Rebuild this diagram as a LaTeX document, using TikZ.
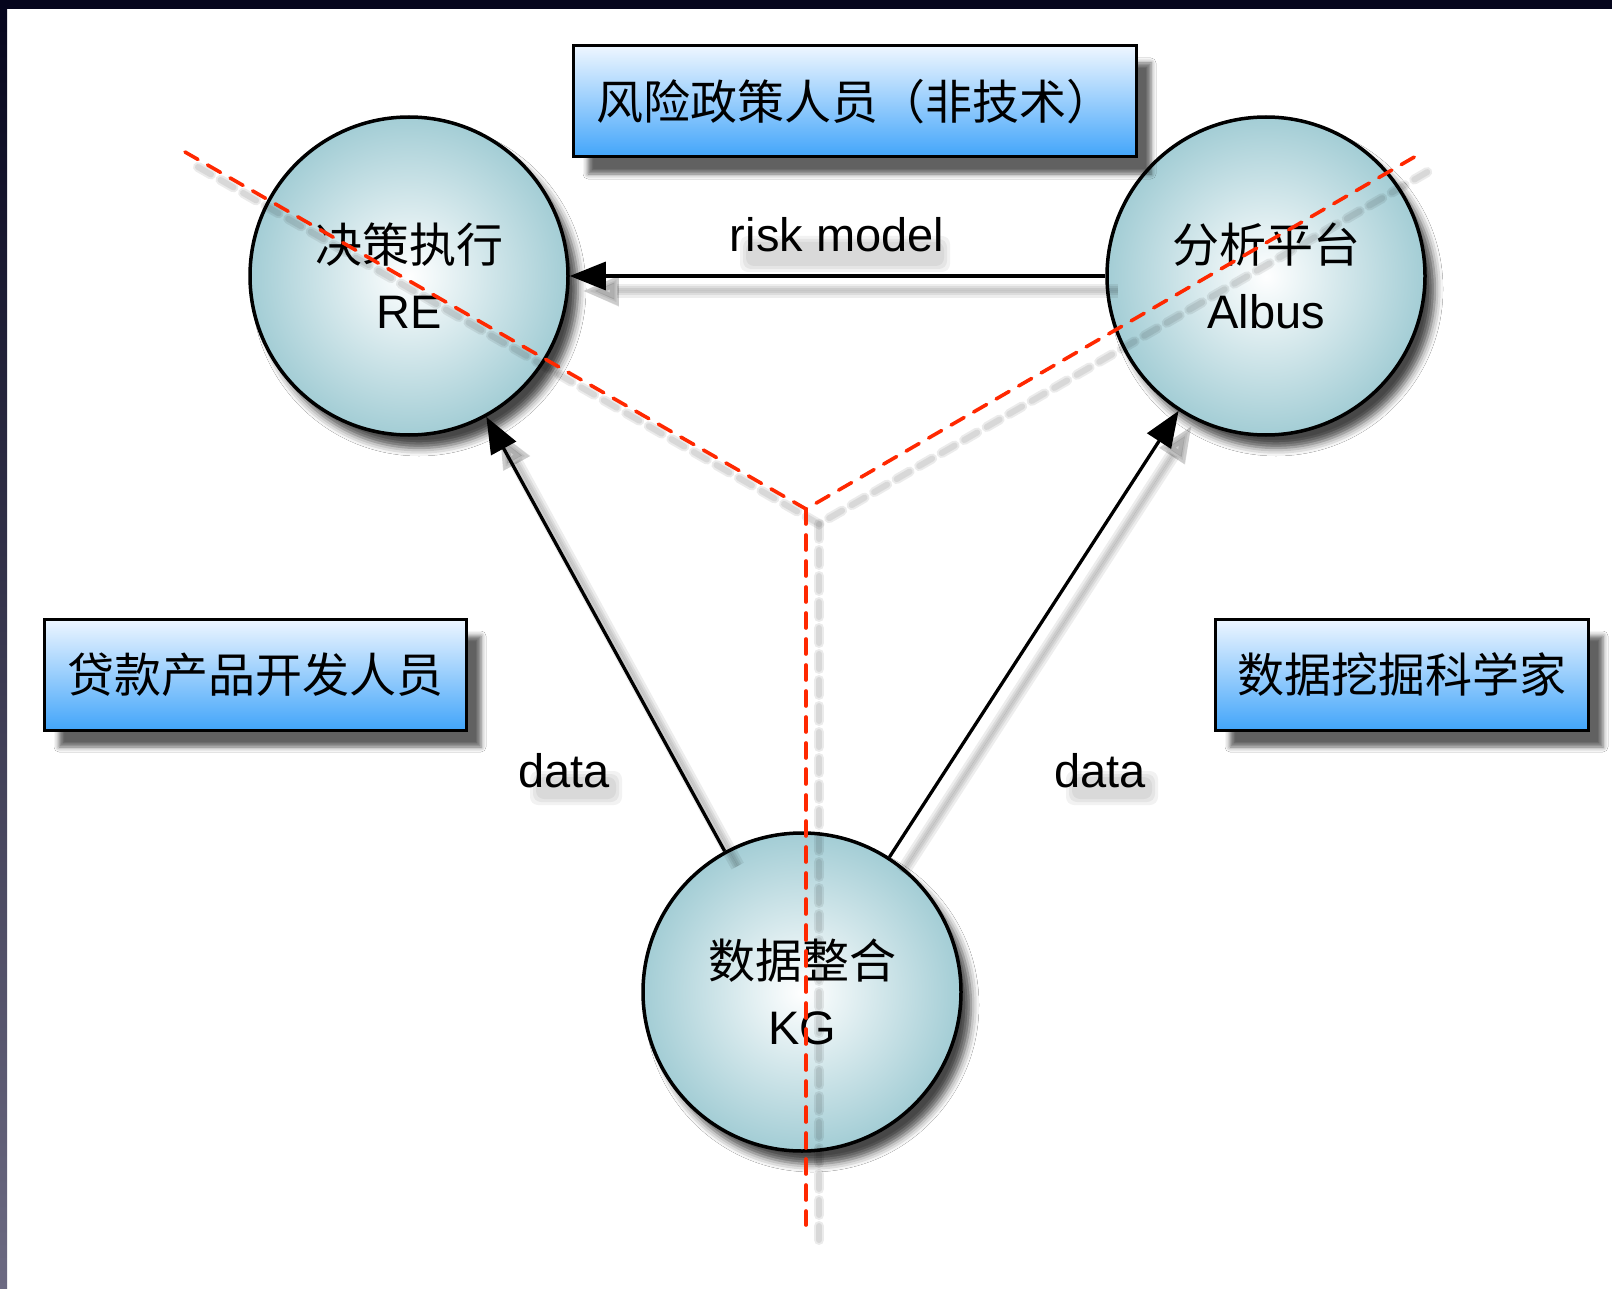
\documentclass[tikz,border=0pt]{standalone}
\usepackage{fontspec}
\setmainfont{Liberation Sans}
\newfontfamily\cjk{Noto Sans CJK SC}
\usetikzlibrary{arrows.meta,shadows.blur}
\definecolor{bandtop}{RGB}{5,5,28}
\definecolor{bandbot}{RGB}{108,106,130}
\definecolor{ballc}{RGB}{163,205,213}
\definecolor{boxtop}{RGB}{238,246,255}
\definecolor{boxbot}{RGB}{66,165,250}
\definecolor{redl}{RGB}{255,40,0}
\tikzset{
  ballnode/.style={circle, draw=black, line width=3.5pt, minimum size=318pt, inner sep=0pt,
    align=center, inner color=white, outer color=ballc,
    blur shadow={shadow xshift=10pt, shadow yshift=-13pt, shadow blur radius=8pt, shadow opacity=72},
    font=\fontsize{47}{66}\selectfont},
  rolebox/.style={rectangle, draw=black, line width=3pt, minimum height=111pt, inner sep=0pt,
    top color=boxtop, bottom color=boxbot,
    blur shadow={shadow xshift=15pt, shadow yshift=-17pt, shadow blur radius=5pt, shadow opacity=62},
    font=\cjk\fontsize{47}{56}\selectfont},
  arr/.style={draw=black, line width=3.3pt, -{Triangle[length=36pt,width=28pt]}},
  shpass/.style={draw=black, fill=black, opacity=0.07, line width=#1},
  lbl/.style={font=\fontsize{47}{56}\selectfont, inner sep=0pt, anchor=base},
  lblsh/.style={fill=black, opacity=0.05, rounded corners=8pt},
  splitline/.style={draw=redl, line width=3.6pt, dash pattern=on 15pt off 11pt, line cap=round},
  splitsh/.style={draw=black, opacity=0.08, line width=#1, dash pattern=on 15pt off 11pt, line cap=round},
}
\begin{document}
\begin{tikzpicture}[x=1pt,y=-1pt]
\useasboundingbox (0,0) rectangle (1612,1289);
\fill[white] (0,0) rectangle (1612,1289);
% window edges
\shade[top color=bandtop, bottom color=bandbot] (0,0) rectangle (7,1289);
\fill[bandtop] (0,0) rectangle (1612,9);

% circles
\node[ballnode] (re) at (409,276) {{\cjk 决策执行}\\RE};
\node[ballnode] (albus) at (1266,276) {{\cjk 分析平台}\\Albus};
\node[ballnode] (kg) at (802,992) {{\cjk 数据整合}\\KG};

% role boxes
\node[rolebox, minimum width=563pt] (policy) at (854.5,101.5) {风险政策人员（非技术）};
\node[rolebox, minimum width=422pt] (loan) at (255,674.5) {贷款产品开发人员};
\node[rolebox, minimum width=373pt] (miner) at (1401.5,674.5) {数据挖掘科学家};

% connector shadows
\begin{scope}[transform canvas={xshift=13pt,yshift=-15pt}]
  \foreach \w in {14,9,5}{
    \draw[shpass=\w pt, -{Triangle[length=36pt,width=28pt]}] (albus) -- (re);
    \draw[shpass=\w pt, -{Triangle[length=36pt,width=28pt]}] (kg) -- (re);
    \draw[shpass=\w pt, -{Triangle[length=36pt,width=28pt]}] (kg) -- (albus);
  }
\end{scope}

% connectors
\draw[arr] (albus) -- (re);
\draw[arr] (kg) -- (re);
\draw[arr] (kg) -- (albus);

% soft shadows under the labels
\foreach \g in {0,3,6}{
  \fill[lblsh] (740+\g,236+\g) rectangle (950-\g,272-\g);
  \fill[lblsh] (530+\g,771+\g) rectangle (622-\g,805-\g);
  \fill[lblsh] (1066+\g,771+\g) rectangle (1158-\g,805-\g);
}
% labels
\node[lbl] (rmlabel) at (837,252) {risk model};
\node[lbl] (dlabel1) at (564,787) {data};
\node[lbl] (dlabel2) at (1100,787) {data};

% red split lines
\coordinate (dl) at (185,152);
\coordinate (apex) at (806,509);
\coordinate (dr) at (1423,152);
\coordinate (db) at (806,1225);
\begin{scope}[transform canvas={xshift=13pt,yshift=-15pt}]
  \foreach \w in {10,6}{
    \draw[splitsh=\w pt] (dl) -- (apex) -- (dr);
    \draw[splitsh=\w pt] (apex) -- (db);
  }
\end{scope}
\draw[splitline] (dl) -- (apex) -- (dr);
\draw[splitline] (apex) -- (db);
\end{tikzpicture}
\end{document}
